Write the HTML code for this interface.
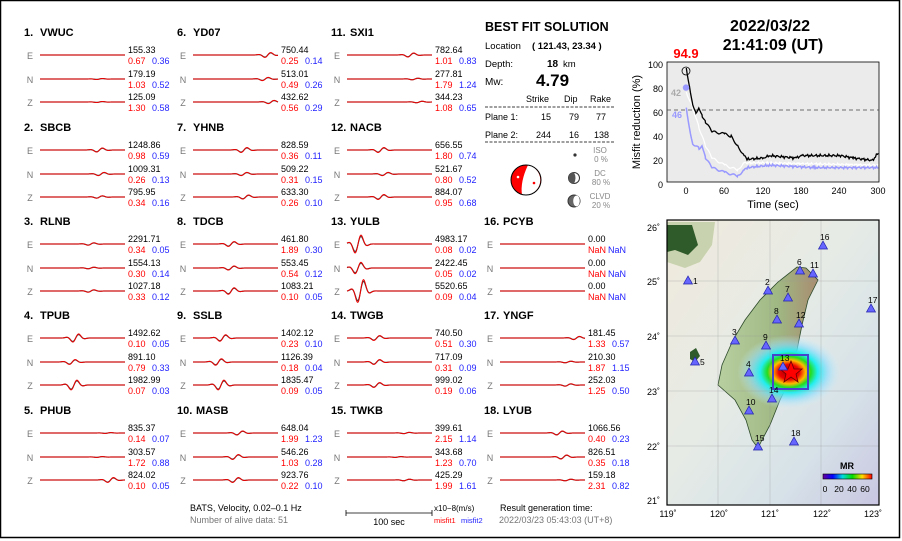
<!DOCTYPE html>
<html><head><meta charset="utf-8"><style>
html,body{margin:0;padding:0;background:#fff;}
svg{display:block;font-family:"Liberation Sans",Arial,sans-serif;}
.t{font-size:11px;font-weight:bold;fill:#000}
.c{font-size:9px;fill:#777;text-anchor:middle}
.a{font-size:9px;fill:#000}
.r{font-size:9px;fill:#f00}
.b{font-size:9px;fill:#22f}
</style></head><body>
<svg id="s" width="902" height="541" viewBox="0 0 902 541" xmlns="http://www.w3.org/2000/svg">
<rect x="0.5" y="0.5" width="899" height="537" fill="#fff" stroke="#000" stroke-width="1.5"/>
<g id="traces"></g>

<g transform="translate(24,32)"><text class="t" y="4">1.</text><text class="t" x="16" y="4">VWUC</text>
<text class="c" x="6" y="27">E</text><text class="a" x="104" y="21">155.33</text><text class="r" x="104" y="32">0.67</text><text class="b" x="128" y="32">0.36</text>
<text class="c" x="6" y="51">N</text><text class="a" x="104" y="45">179.19</text><text class="r" x="104" y="56">1.03</text><text class="b" x="128" y="56">0.52</text>
<text class="c" x="6" y="74">Z</text><text class="a" x="104" y="68">125.09</text><text class="r" x="104" y="79">1.30</text><text class="b" x="128" y="79">0.58</text></g>
<g transform="translate(24,127)"><text class="t" y="4">2.</text><text class="t" x="16" y="4">SBCB</text>
<text class="c" x="6" y="27">E</text><text class="a" x="104" y="21">1248.86</text><text class="r" x="104" y="32">0.98</text><text class="b" x="128" y="32">0.59</text>
<text class="c" x="6" y="51">N</text><text class="a" x="104" y="45">1009.31</text><text class="r" x="104" y="56">0.26</text><text class="b" x="128" y="56">0.13</text>
<text class="c" x="6" y="74">Z</text><text class="a" x="104" y="68">795.95</text><text class="r" x="104" y="79">0.34</text><text class="b" x="128" y="79">0.16</text></g>
<g transform="translate(24,221)"><text class="t" y="4">3.</text><text class="t" x="16" y="4">RLNB</text>
<text class="c" x="6" y="27">E</text><text class="a" x="104" y="21">2291.71</text><text class="r" x="104" y="32">0.34</text><text class="b" x="128" y="32">0.05</text>
<text class="c" x="6" y="51">N</text><text class="a" x="104" y="45">1554.13</text><text class="r" x="104" y="56">0.30</text><text class="b" x="128" y="56">0.14</text>
<text class="c" x="6" y="74">Z</text><text class="a" x="104" y="68">1027.18</text><text class="r" x="104" y="79">0.33</text><text class="b" x="128" y="79">0.12</text></g>
<g transform="translate(24,315)"><text class="t" y="4">4.</text><text class="t" x="16" y="4">TPUB</text>
<text class="c" x="6" y="27">E</text><text class="a" x="104" y="21">1492.62</text><text class="r" x="104" y="32">0.10</text><text class="b" x="128" y="32">0.05</text>
<text class="c" x="6" y="51">N</text><text class="a" x="104" y="45">891.10</text><text class="r" x="104" y="56">0.79</text><text class="b" x="128" y="56">0.33</text>
<text class="c" x="6" y="74">Z</text><text class="a" x="104" y="68">1982.99</text><text class="r" x="104" y="79">0.07</text><text class="b" x="128" y="79">0.03</text></g>
<g transform="translate(24,410)"><text class="t" y="4">5.</text><text class="t" x="16" y="4">PHUB</text>
<text class="c" x="6" y="27">E</text><text class="a" x="104" y="21">835.37</text><text class="r" x="104" y="32">0.14</text><text class="b" x="128" y="32">0.07</text>
<text class="c" x="6" y="51">N</text><text class="a" x="104" y="45">303.57</text><text class="r" x="104" y="56">1.72</text><text class="b" x="128" y="56">0.88</text>
<text class="c" x="6" y="74">Z</text><text class="a" x="104" y="68">824.02</text><text class="r" x="104" y="79">0.10</text><text class="b" x="128" y="79">0.05</text></g>

<g transform="translate(177,32)"><text class="t" y="4">6.</text><text class="t" x="16" y="4">YD07</text>
<text class="c" x="6" y="27">E</text><text class="a" x="104" y="21">750.44</text><text class="r" x="104" y="32">0.25</text><text class="b" x="128" y="32">0.14</text>
<text class="c" x="6" y="51">N</text><text class="a" x="104" y="45">513.01</text><text class="r" x="104" y="56">0.49</text><text class="b" x="128" y="56">0.26</text>
<text class="c" x="6" y="74">Z</text><text class="a" x="104" y="68">432.62</text><text class="r" x="104" y="79">0.56</text><text class="b" x="128" y="79">0.29</text></g>
<g transform="translate(177,127)"><text class="t" y="4">7.</text><text class="t" x="16" y="4">YHNB</text>
<text class="c" x="6" y="27">E</text><text class="a" x="104" y="21">828.59</text><text class="r" x="104" y="32">0.36</text><text class="b" x="128" y="32">0.11</text>
<text class="c" x="6" y="51">N</text><text class="a" x="104" y="45">509.22</text><text class="r" x="104" y="56">0.31</text><text class="b" x="128" y="56">0.15</text>
<text class="c" x="6" y="74">Z</text><text class="a" x="104" y="68">633.30</text><text class="r" x="104" y="79">0.26</text><text class="b" x="128" y="79">0.10</text></g>
<g transform="translate(177,221)"><text class="t" y="4">8.</text><text class="t" x="16" y="4">TDCB</text>
<text class="c" x="6" y="27">E</text><text class="a" x="104" y="21">461.80</text><text class="r" x="104" y="32">1.89</text><text class="b" x="128" y="32">0.30</text>
<text class="c" x="6" y="51">N</text><text class="a" x="104" y="45">553.45</text><text class="r" x="104" y="56">0.54</text><text class="b" x="128" y="56">0.12</text>
<text class="c" x="6" y="74">Z</text><text class="a" x="104" y="68">1083.21</text><text class="r" x="104" y="79">0.10</text><text class="b" x="128" y="79">0.05</text></g>
<g transform="translate(177,315)"><text class="t" y="4">9.</text><text class="t" x="16" y="4">SSLB</text>
<text class="c" x="6" y="27">E</text><text class="a" x="104" y="21">1402.12</text><text class="r" x="104" y="32">0.23</text><text class="b" x="128" y="32">0.10</text>
<text class="c" x="6" y="51">N</text><text class="a" x="104" y="45">1126.39</text><text class="r" x="104" y="56">0.18</text><text class="b" x="128" y="56">0.04</text>
<text class="c" x="6" y="74">Z</text><text class="a" x="104" y="68">1835.47</text><text class="r" x="104" y="79">0.09</text><text class="b" x="128" y="79">0.05</text></g>
<g transform="translate(177,410)"><text class="t" y="4">10.</text><text class="t" x="19" y="4">MASB</text>
<text class="c" x="6" y="27">E</text><text class="a" x="104" y="21">648.04</text><text class="r" x="104" y="32">1.99</text><text class="b" x="128" y="32">1.23</text>
<text class="c" x="6" y="51">N</text><text class="a" x="104" y="45">546.26</text><text class="r" x="104" y="56">1.03</text><text class="b" x="128" y="56">0.28</text>
<text class="c" x="6" y="74">Z</text><text class="a" x="104" y="68">923.76</text><text class="r" x="104" y="79">0.22</text><text class="b" x="128" y="79">0.10</text></g>

<g transform="translate(331,32)"><text class="t" y="4">11.</text><text class="t" x="19" y="4">SXI1</text>
<text class="c" x="6" y="27">E</text><text class="a" x="104" y="21">782.64</text><text class="r" x="104" y="32">1.01</text><text class="b" x="128" y="32">0.83</text>
<text class="c" x="6" y="51">N</text><text class="a" x="104" y="45">277.81</text><text class="r" x="104" y="56">1.79</text><text class="b" x="128" y="56">1.24</text>
<text class="c" x="6" y="74">Z</text><text class="a" x="104" y="68">344.23</text><text class="r" x="104" y="79">1.08</text><text class="b" x="128" y="79">0.65</text></g>
<g transform="translate(331,127)"><text class="t" y="4">12.</text><text class="t" x="19" y="4">NACB</text>
<text class="c" x="6" y="27">E</text><text class="a" x="104" y="21">656.55</text><text class="r" x="104" y="32">1.80</text><text class="b" x="128" y="32">0.74</text>
<text class="c" x="6" y="51">N</text><text class="a" x="104" y="45">521.67</text><text class="r" x="104" y="56">0.80</text><text class="b" x="128" y="56">0.52</text>
<text class="c" x="6" y="74">Z</text><text class="a" x="104" y="68">884.07</text><text class="r" x="104" y="79">0.95</text><text class="b" x="128" y="79">0.68</text></g>
<g transform="translate(331,221)"><text class="t" y="4">13.</text><text class="t" x="19" y="4">YULB</text>
<text class="c" x="6" y="27">E</text><text class="a" x="104" y="21">4983.17</text><text class="r" x="104" y="32">0.08</text><text class="b" x="128" y="32">0.02</text>
<text class="c" x="6" y="51">N</text><text class="a" x="104" y="45">2422.45</text><text class="r" x="104" y="56">0.05</text><text class="b" x="128" y="56">0.02</text>
<text class="c" x="6" y="74">Z</text><text class="a" x="104" y="68">5520.65</text><text class="r" x="104" y="79">0.09</text><text class="b" x="128" y="79">0.04</text></g>
<g transform="translate(331,315)"><text class="t" y="4">14.</text><text class="t" x="19" y="4">TWGB</text>
<text class="c" x="6" y="27">E</text><text class="a" x="104" y="21">740.50</text><text class="r" x="104" y="32">0.51</text><text class="b" x="128" y="32">0.30</text>
<text class="c" x="6" y="51">N</text><text class="a" x="104" y="45">717.09</text><text class="r" x="104" y="56">0.31</text><text class="b" x="128" y="56">0.09</text>
<text class="c" x="6" y="74">Z</text><text class="a" x="104" y="68">999.02</text><text class="r" x="104" y="79">0.19</text><text class="b" x="128" y="79">0.06</text></g>
<g transform="translate(331,410)"><text class="t" y="4">15.</text><text class="t" x="19" y="4">TWKB</text>
<text class="c" x="6" y="27">E</text><text class="a" x="104" y="21">399.61</text><text class="r" x="104" y="32">2.15</text><text class="b" x="128" y="32">1.14</text>
<text class="c" x="6" y="51">N</text><text class="a" x="104" y="45">343.68</text><text class="r" x="104" y="56">1.23</text><text class="b" x="128" y="56">0.70</text>
<text class="c" x="6" y="74">Z</text><text class="a" x="104" y="68">425.29</text><text class="r" x="104" y="79">1.99</text><text class="b" x="128" y="79">1.61</text></g>

<g transform="translate(484,221)"><text class="t" y="4">16.</text><text class="t" x="19" y="4">PCYB</text>
<text class="c" x="6" y="27">E</text><text class="a" x="104" y="21">0.00</text><text class="r" x="104" y="32">NaN</text><text class="b" x="124" y="32">NaN</text>
<text class="c" x="6" y="51">N</text><text class="a" x="104" y="45">0.00</text><text class="r" x="104" y="56">NaN</text><text class="b" x="124" y="56">NaN</text>
<text class="c" x="6" y="74">Z</text><text class="a" x="104" y="68">0.00</text><text class="r" x="104" y="79">NaN</text><text class="b" x="124" y="79">NaN</text></g>
<g transform="translate(484,315)"><text class="t" y="4">17.</text><text class="t" x="19" y="4">YNGF</text>
<text class="c" x="6" y="27">E</text><text class="a" x="104" y="21">181.45</text><text class="r" x="104" y="32">1.33</text><text class="b" x="128" y="32">0.57</text>
<text class="c" x="6" y="51">N</text><text class="a" x="104" y="45">210.30</text><text class="r" x="104" y="56">1.87</text><text class="b" x="128" y="56">1.15</text>
<text class="c" x="6" y="74">Z</text><text class="a" x="104" y="68">252.03</text><text class="r" x="104" y="79">1.25</text><text class="b" x="128" y="79">0.50</text></g>
<g transform="translate(484,410)"><text class="t" y="4">18.</text><text class="t" x="19" y="4">LYUB</text>
<text class="c" x="6" y="27">E</text><text class="a" x="104" y="21">1066.56</text><text class="r" x="104" y="32">0.40</text><text class="b" x="128" y="32">0.23</text>
<text class="c" x="6" y="51">N</text><text class="a" x="104" y="45">826.51</text><text class="r" x="104" y="56">0.35</text><text class="b" x="128" y="56">0.18</text>
<text class="c" x="6" y="74">Z</text><text class="a" x="104" y="68">159.18</text><text class="r" x="104" y="79">2.31</text><text class="b" x="128" y="79">0.82</text></g>

<text x="485" y="31" style="font-size:12.5px;font-weight:bold">BEST FIT SOLUTION</text>
<text x="485" y="49" style="font-size:9.5px">Location</text>
<text x="532" y="49" style="font-size:9.5px;font-weight:bold">( 121.43,  23.34 )</text>
<text x="485" y="67" style="font-size:9.5px">Depth:</text>
<text x="547" y="67" style="font-size:10px;font-weight:bold">18</text><text x="563" y="67" style="font-size:9.5px">km</text>
<text x="485" y="85" style="font-size:10px">Mw:</text>
<text x="536" y="86" style="font-size:17px;font-weight:bold">4.79</text>
<text x="526" y="102" style="font-size:9px">Strike</text><text x="564" y="102" style="font-size:9px">Dip</text><text x="590" y="102" style="font-size:9px">Rake</text>
<line x1="485" y1="107" x2="614" y2="107" stroke="#000" stroke-width="0.8" stroke-dasharray="3,1.5"/>
<text x="485" y="120" style="font-size:9px">Plane 1:</text><text x="551" y="120" style="font-size:9px;text-anchor:end">15</text><text x="579" y="120" style="font-size:9px;text-anchor:end">79</text><text x="606" y="120" style="font-size:9px;text-anchor:end">77</text>
<text x="485" y="138" style="font-size:9px">Plane 2:</text><text x="551" y="138" style="font-size:9px;text-anchor:end">244</text><text x="579" y="138" style="font-size:9px;text-anchor:end">16</text><text x="609" y="138" style="font-size:9px;text-anchor:end">138</text>
<line x1="485" y1="142" x2="614" y2="142" stroke="#000" stroke-width="0.8" stroke-dasharray="3,1.5"/>
<circle cx="575" cy="155" r="1.6" fill="#333"/>
<text x="600" y="153" style="font-size:8px;fill:#888;text-anchor:middle">ISO</text><text x="601" y="162" style="font-size:8px;fill:#888;text-anchor:middle">0  %</text>
<circle cx="574" cy="178" r="5.5" fill="#fff" stroke="#333"/><path d="M574 172.5 A5.5 5.5 0 0 0 574 183.5 Q577 178 574 172.5Z" fill="#555"/>
<text x="600" y="176" style="font-size:8px;fill:#888;text-anchor:middle">DC</text><text x="601" y="185" style="font-size:8px;fill:#888;text-anchor:middle">80 %</text>
<circle cx="574" cy="201" r="6" fill="#666" stroke="#333"/><ellipse cx="576.5" cy="201" rx="3.3" ry="5.5" fill="#fff"/>
<text x="600" y="199" style="font-size:8px;fill:#888;text-anchor:middle">CLVD</text><text x="601" y="208" style="font-size:8px;fill:#888;text-anchor:middle">20 %</text>
<circle cx="526" cy="180" r="15" fill="#f00"/>
<path d="M528 165 Q520 182 522 195 A15 15 0 0 0 528 165Z" fill="#fff"/>
<circle cx="526" cy="180" r="15" fill="none" stroke="#000" stroke-width="1"/>
<circle cx="518" cy="177" r="1.3" fill="#fff"/><circle cx="534" cy="183" r="1.3" fill="#f00"/>

<text x="770" y="31" style="font-size:16px;font-weight:bold;text-anchor:middle">2022/03/22</text>
<text x="773" y="50" style="font-size:16px;font-weight:bold;text-anchor:middle">21:41:09  (UT)</text>
<text x="686" y="58" style="font-size:13px;font-weight:bold;fill:#f00;text-anchor:middle">94.9</text>

<rect x="667" y="62" width="212" height="120" fill="#ebebeb" stroke="#000" stroke-width="0.8"/>
<line x1="667" y1="110" x2="879" y2="110" stroke="#444" stroke-width="0.8" stroke-dasharray="4,3"/>
<g id="mp"></g>
<circle cx="686" cy="71" r="4" fill="none" stroke="#000" stroke-width="0.8"/>
<circle cx="686" cy="87.6" r="3.2" fill="#99f"/>
<text x="676" y="96" style="font-size:9px;font-weight:bold;fill:#aaa;text-anchor:middle">42</text>
<text x="677" y="118" style="font-size:9px;font-weight:bold;fill:#99f;text-anchor:middle">46</text>
<g style="font-size:9px;text-anchor:end">
<text x="663" y="68">100</text><text x="663" y="92">80</text><text x="663" y="116">60</text><text x="663" y="140">40</text><text x="663" y="164">20</text><text x="663" y="188">0</text></g>
<g style="font-size:9px;text-anchor:middle">
<text x="686" y="194">0</text><text x="724" y="194">60</text><text x="763" y="194">120</text><text x="801" y="194">180</text><text x="839" y="194">240</text><text x="878" y="194">300</text></g>
<text x="773" y="208" style="font-size:11px;text-anchor:middle">Time (sec)</text>
<text transform="translate(640,122) rotate(-90)" style="font-size:11px;text-anchor:middle">Misfit reduction (%)</text>

<defs>
<linearGradient id="sea" x1="0" y1="0" x2="1" y2="1"><stop offset="0" stop-color="#f0eadc"/><stop offset="0.45" stop-color="#e6ebe6"/><stop offset="0.75" stop-color="#d6e2e8"/><stop offset="1" stop-color="#c9c6e2"/></linearGradient>
<radialGradient id="blob"><stop offset="0" stop-color="#900"/><stop offset="0.2" stop-color="#e00"/><stop offset="0.32" stop-color="#fb0"/><stop offset="0.42" stop-color="#2d2"/><stop offset="0.55" stop-color="#2ee"/><stop offset="0.75" stop-color="#8df" stop-opacity="0.6"/><stop offset="1" stop-color="#cef" stop-opacity="0"/></radialGradient>
<linearGradient id="cb" x1="0" x2="1"><stop offset="0" stop-color="#609"/><stop offset="0.2" stop-color="#00f"/><stop offset="0.4" stop-color="#0dd"/><stop offset="0.6" stop-color="#0d0"/><stop offset="0.8" stop-color="#fd0"/><stop offset="1" stop-color="#f00"/></linearGradient>
<linearGradient id="land" x1="0" y1="0" x2="1" y2="0"><stop offset="0" stop-color="#b8cfa0"/><stop offset="0.6" stop-color="#9fb883"/><stop offset="1" stop-color="#a98c70"/></linearGradient>
</defs>
<rect x="667" y="220" width="212" height="285" fill="url(#sea)"/>
<path d="M667 222 L715 222 L712 245 L700 262 L685 268 L667 262Z" fill="#c9d2ae"/>
<path d="M667 225 L692 225 L698 245 L688 255 L675 250 L667 252Z" fill="#2f5a2a"/>
<path d="M690 352 l6 -4 l4 8 l-5 6 l-5 -3Z" fill="#2f5a2a"/>
<path d="M797 267 L806 268 L818 280 L808 300 L802 325 L797 350 L790 380 L780 400 L770 425 L762 440 L758 448 L752 440 L746 420 L735 400 L718 385 L722 365 L733 340 L745 320 L760 300 L778 282Z" fill="url(#land)" stroke="#2d4a2a" stroke-width="0.8"/>
<ellipse cx="789" cy="372" rx="52" ry="37" fill="url(#blob)"/>
<rect x="773" y="355" width="35" height="34" fill="none" stroke="#44c" stroke-width="2"/>
<g stroke="#999" stroke-width="0.3" fill="none">
<line x1="718" y1="220" x2="718" y2="505"/><line x1="770" y1="220" x2="770" y2="505"/><line x1="821" y1="220" x2="821" y2="505"/>
<line x1="667" y1="281" x2="879" y2="281"/><line x1="667" y1="336" x2="879" y2="336"/><line x1="667" y1="391" x2="879" y2="391"/><line x1="667" y1="446" x2="879" y2="446"/></g>
<polygon points="791,361 794,369 802,369 796,374 798,382 791,377 784,382 786,374 780,369 788,369" fill="#f00" stroke="#600" stroke-width="0.8"/>
<g id="st" style="font-size:8.5px"></g>
<rect x="823" y="474" width="49" height="5" fill="url(#cb)" stroke="#000" stroke-width="0.6"/>
<text x="847" y="469" style="font-size:9px;font-weight:bold;text-anchor:middle">MR</text>
<g style="font-size:8.5px;text-anchor:middle"><text x="825" y="492">0</text><text x="839" y="492">20</text><text x="852" y="492">40</text><text x="865" y="492">60</text></g>
<rect x="667" y="220" width="212" height="285" fill="none" stroke="#000" stroke-width="1.2"/>
<g style="font-size:9px;text-anchor:end"><text x="660" y="231">26˚</text><text x="660" y="285">25˚</text><text x="660" y="340">24˚</text><text x="660" y="395">23˚</text><text x="660" y="450">22˚</text><text x="660" y="504">21˚</text></g>
<g style="font-size:9px;text-anchor:middle"><text x="668" y="517">119˚</text><text x="719" y="517">120˚</text><text x="770" y="517">121˚</text><text x="822" y="517">122˚</text><text x="873" y="517">123˚</text></g>

<text x="190" y="511" style="font-size:9px">BATS, Velocity, 0.02–0.1 Hz</text>
<text x="190" y="523" style="font-size:9px;fill:#777">Number of alive data: 51</text>
<line x1="346" y1="513" x2="432" y2="513" stroke="#000" stroke-width="0.8"/>
<line x1="346" y1="510" x2="346" y2="516" stroke="#000" stroke-width="0.8"/><line x1="432" y1="510" x2="432" y2="516" stroke="#000" stroke-width="0.8"/>
<text x="389" y="525" style="font-size:9px;text-anchor:middle">100 sec</text>
<text x="434" y="511" style="font-size:8px">x10−8(m/s)</text>
<text x="434" y="523" style="font-size:7.5px;fill:#f00">misfit1</text><text x="461" y="523" style="font-size:7.5px;fill:#22f">misfit2</text>
<text x="500" y="511" style="font-size:9px">Result generation time:</text>
<text x="499" y="523" style="font-size:9px;fill:#777">2022/03/23 05:43:03 (UT+8)</text>
</svg>
<script>
var NS="http://www.w3.org/2000/svg";
function el(p,t,a){var e=document.createElementNS(NS,t);for(var k in a)e.setAttribute(k,a[k]);p.appendChild(e);return e;}
var tg=document.getElementById("traces");
var cols=[24,177,331,484],rows=[32,127,221,315,410];
var W=[
[0,0,[[0.5,0],[0.7,0.6],[0.7,0.6]]],[0,1,[[0.7,2.5],[0.72,2],[0.7,1.5]]],[0,2,[[0.6,1.5],[0.6,1],[0.6,1.5]]],
[0,3,[[0.42,5],[0.38,3],[0.4,6]]],[0,4,[[0.8,0.5],[0.7,0.5],[0.83,3]]],
[1,0,[[0.88,3],[0.85,2],[0.92,2]]],[1,1,[[0.6,3],[0.6,2],[0.62,2.5]]],[1,2,[[0.45,3],[0.45,2.5],[0.45,4]]],
[1,3,[[0.35,4],[0.3,4],[0.33,6]]],[1,4,[[0.55,2.5],[0.5,3],[0.5,3]]],
[2,0,[[0.75,2.5],[0.8,1],[0.85,1]]],[2,1,[[0.4,3],[0.45,2],[0.4,3]]],[2,2,[[0.13,11],[0.13,7],[0.16,14]]],
[2,3,[[0.35,3],[0.35,3],[0.35,3]]],[2,4,[[0.7,0.8],[0.6,0.5],[0.7,1]]],
[3,2,[[0.5,0],[0.5,0],[0.5,0]]],[3,3,[[0.9,2],[0.8,1],[0.8,1.5]]],[3,4,[[0.7,2.5],[0.75,2.5],[0.8,1]]]];
var offs=[23,47,70];
W.forEach(function(w){
 var x0=cols[w[0]]+16,x1=x0+85,y0=rows[w[1]];
 w[2].forEach(function(q,i){
  var y=y0+offs[i];
  var pts=[],pts2=[];
  var xc=x0+q[0]*85;
  for(var x=x0;x<=x1;x+=0.5){
   var d=x-xc;
   var env=Math.exp(-(d/7)*(d/7));
   var v=q[1]*env*Math.sin(d*0.45);
   pts.push(x+","+(y-v).toFixed(2));
   pts2.push(x+","+(y-v*0.85).toFixed(2));
  }
  el(tg,"polyline",{points:pts2.join(" "),fill:"none",stroke:"#444","stroke-width":1.2});
  el(tg,"polyline",{points:pts.join(" "),fill:"none",stroke:"#e00","stroke-width":1});
 });
});
var mp=document.getElementById("mp");
function X(t){return 667+(t+30)/330*212;}function Y(v){return 182-v*1.2;}
function line(d,c,w,amp){var p=[];for(var i=0;i<d.length-1;i++){var a=d[i],b=d[i+1];for(var t=a[0];t<b[0];t+=1.5){var v=a[1]+(b[1]-a[1])*(t-a[0])/(b[0]-a[0]);var n=amp*((t>90)?(Math.sin(t*2.3)+Math.sin(t*5.1))*0.7:Math.sin(t*3.7));p.push(X(t).toFixed(1)+","+Y(v+n).toFixed(1));}}
el(mp,"polyline",{points:p.join(" "),fill:"none",stroke:c,"stroke-width":w});}
line([[0,75],[10,62],[20,45],[30,30],[40,20],[60,14],[80,10],[90,16],[120,16],[300,14]],"#fff",1.2,0.8);
line([[0,62],[5,45],[10,32],[20,28],[25,30],[30,20],[40,12],[60,8],[80,5],[90,10],[95,12],[130,14],[200,12],[300,12]],"#99f",1.5,0.8);
line([[0,95],[5,80],[10,65],[15,58],[20,62],[25,55],[30,50],[40,42],[60,40],[70,38],[80,30],[90,22],[95,19],[120,20],[130,22],[170,20],[180,22],[240,22],[260,20],[290,18],[300,25]],"#000",1.3,0.9);
var st=document.getElementById("st");
[[1,688,281],[2,768,291],[3,735,341],[4,749,373],[5,695,362],[6,800,271],[7,788,298],[8,777,320],[9,766,346],[10,749,411],[11,813,274],[12,799,324],[13,783,367],[14,772,399],[15,758,447],[16,823,246],[17,871,309],[18,794,442]].forEach(function(s){
 var x=s[1],y=s[2];
 el(st,"polygon",{points:x+","+(y-5)+" "+(x-4.5)+","+(y+3)+" "+(x+4.5)+","+(y+3),fill:"#66f",stroke:"#22a","stroke-width":0.7});
 var t=el(st,"text",{x:x+(s[0]==1||s[0]==5?5:-3),y:y-(s[0]==1||s[0]==5?-3:6)});t.textContent=s[0];
});
</script>
</body></html>
